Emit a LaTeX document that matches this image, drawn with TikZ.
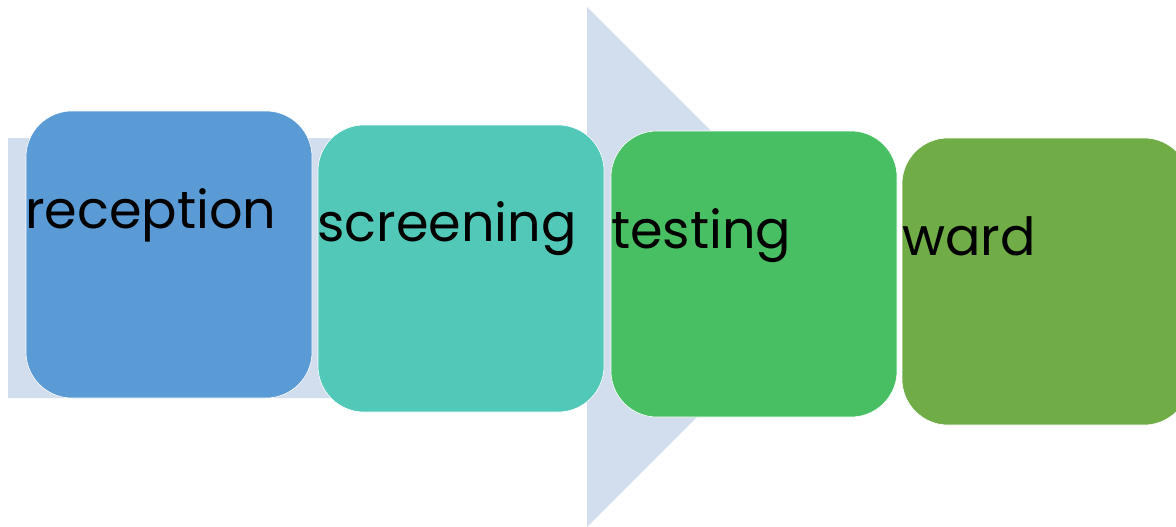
\documentclass[tikz,border=0pt]{standalone}
\usepackage{fontspec}
\setmainfont{Poppins}
\definecolor{arrowfill}{HTML}{D2DEEE}
\definecolor{stepA}{HTML}{5B9BD5}
\definecolor{stepB}{HTML}{52C8B8}
\definecolor{stepC}{HTML}{48BF63}
\definecolor{stepD}{HTML}{70AD47}
\tikzset{
  stagebox/.style={draw=white, line width=0.6pt, rounded corners=46pt},
  stagelabel/.style={anchor=base west, inner sep=0pt, font=\fontsize{52.5}{52.5}\selectfont, text=black},
}
\begin{document}
\begin{tikzpicture}[x=1pt, y=-1pt]
  \useasboundingbox (0,0) rectangle (1176,527);
  % large background process arrow
  \fill[arrowfill] (8,138) -- (587,138) -- (587,7) -- (847,267) -- (587,527)
    -- (587,398) -- (8,398) -- cycle;
  % stage boxes
  \filldraw[stagebox, fill=stepA] (26,111) rectangle (312,398);
  \filldraw[stagebox, fill=stepB] (318,125) rectangle (604,412);
  \filldraw[stagebox, fill=stepC] (611,131) rectangle (897,417);
  \filldraw[stagebox, fill=stepD] (902,138) rectangle (1190,425);
  % stage labels
  \node[stagelabel] (reception) at (25,228) {reception};
  \node[stagelabel] (screening) at (317,241) {screening};
  \node[stagelabel] (testing) at (611,248) {testing};
  \node[stagelabel] (ward) at (902,255) {ward};
\end{tikzpicture}
\end{document}
